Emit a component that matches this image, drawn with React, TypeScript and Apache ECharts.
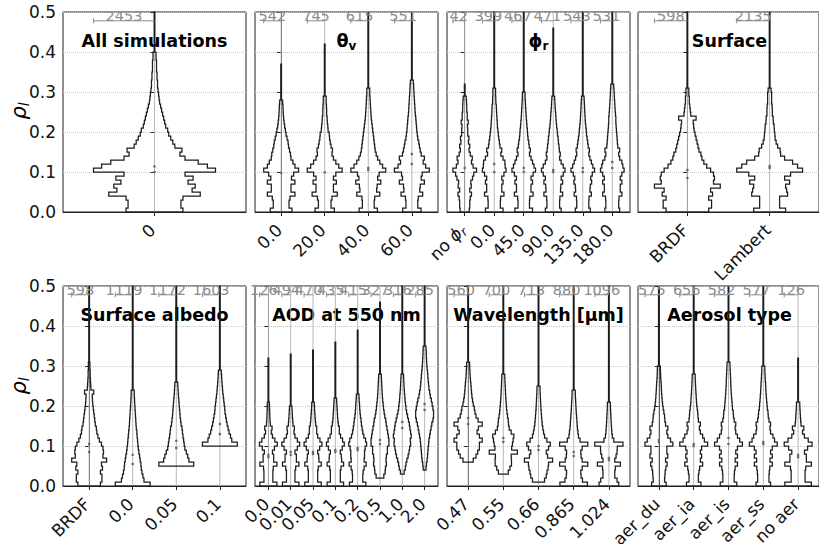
import React, { useEffect, useRef } from "react";
import * as echarts from "echarts";

const FONT = "DejaVu Sans";
const BIN = 0.01;
const HALF = 0.4;
const COUNT_Y = 0.478;

// ---- Panel 1: All simulations
const allCats = ["0"];
const allCounts = [2453];
const allStarts = [0];
const allTops = [0.5];
const allMarks = [[0.1, 0.114]];
const allWidths = [
  [28, 26, 26, 28, 45, 37, 40, 33, 38, 30, 60, 52, 43, 30, 25, 27, 20, 18, 16, 14, 13, 11, 10, 9, 8, 7, 6, 5, 4.5, 4, 3.5, 3, 3, 2.5, 2.5, 2, 2, 2, 1.5, 1.5],
];

// ---- Panel 2: theta_v
const vzaCats = ["0.0", "20.0", "40.0", "60.0"];
const vzaCounts = [542, 745, 615, 551];
const vzaStarts = [0, 0, 0, 0];
const vzaTops = [0.37, 0.42, 0.5, 0.5];
const vzaMarks = [[0.098], [0.099], [0.105, 0.11], [0.12, 0.145]];
const vzaWidths = [
  [11, 8, 8, 9, 14, 10, 10, 14, 10.5, 12.7, 17.7, 14, 12, 10, 9.5, 8.5, 7.5, 7, 6, 5, 4.3, 3.5, 3, 2.5, 2.2, 2, 1.8, 1.5],
  [10, 6.5, 6.5, 7.5, 13, 9, 9, 12, 9, 11.5, 18, 14.5, 11.5, 9, 7.5, 8, 6.5, 5.7, 5, 4.7, 3.5, 3.2, 2.7, 2.5, 2, 2, 1.8, 1.5, 1.5],
  [9.3, 6, 6, 6.5, 11.7, 8.5, 9, 12.7, 9.5, 11, 17.7, 14.5, 11.7, 9.5, 8, 7, 6.5, 6, 5.5, 5, 4.5, 4, 3.5, 3, 2.7, 2.5, 2.2, 2, 1.8, 1.5, 1.5],
  [9.3, 6, 6, 6.5, 11, 8, 8.5, 12.7, 9.5, 10.5, 17.7, 14, 11.5, 12.7, 9.5, 8.5, 7.7, 7, 6, 5.5, 5, 4.7, 4.3, 4, 3.5, 3.2, 3, 2.7, 2.5, 2.2, 2, 1.8, 1.5],
];

// ---- Panel 3: phi_r
const razCats = ["no ϕr", "0.0", "45.0", "90.0", "135.0", "180.0"];
const razCounts = [42, 399, 467, 471, 543, 531];
const razStarts = [0, 0, 0, 0, 0, 0];
const razTops = [0.32, 0.5, 0.5, 0.46, 0.5, 0.5];
const razMarks = [[0.11], [0.1, 0.12], [0.1, 0.11], [0.1, 0.105], [0.1, 0.11], [0.11, 0.125]];
const razWidths = [
  [4.5, 5, 5, 5.5, 6.7, 5, 6.5, 6, 7.7, 9, 11.7, 8.3, 6.7, 7.5, 5.5, 4.3, 5, 3.7, 4.2, 3, 3, 2.7, 3.5, 2.5, 2.5, 2, 2, 1.8, 1.5],
  [9.7, 6.7, 6.7, 7, 10.7, 8.3, 8.3, 9.7, 8.3, 10.7, 13, 12, 11.7, 9.7, 7.3, 8.3, 6.3, 5.7, 5, 4.5, 4, 3.5, 3.3, 3, 2.7, 2.5, 2.3, 1.8, 1.7, 1.5, 1.5],
  [9.7, 6.3, 6.3, 6.7, 10.3, 8, 8, 9.7, 8, 10.3, 13, 11.3, 9.7, 8, 6.3, 7.3, 6, 5.5, 4.7, 4.3, 4, 3.5, 3.2, 2.8, 2.5, 2.3, 2, 1.8, 1.5, 1.5],
  [8.7, 7, 7, 7.3, 10.3, 8, 8.3, 10.3, 8.7, 11, 13, 11, 8.7, 7, 7.7, 6.7, 6.3, 5.7, 5.3, 4.7, 4.3, 3.7, 3.3, 3, 2.7, 2.3, 2, 1.8, 1.5],
  [8.7, 7, 7, 7.3, 10, 8.3, 8.7, 10.3, 9.3, 11, 13.7, 11.7, 10, 8.3, 7, 7.7, 6.3, 5.7, 5, 4.3, 4, 3.5, 3, 2.7, 2.5, 2.2, 2, 1.8, 1.5],
  [7.7, 6.7, 6.7, 7, 10, 8.3, 8.3, 10, 8.3, 10, 12.3, 11, 10, 7.7, 6.7, 7.7, 5.7, 5.3, 5, 4.7, 4.3, 4, 3.7, 3.7, 3.3, 3, 2.7, 2.5, 2.2, 2, 1.8, 1.5],
];

// ---- shared histogram shapes (same subsets appear in two panels)
const brdfWidths = [22, 25, 25, 22, 26, 24, 34, 27, 28, 27, 24, 20, 17, 15, 14, 12, 11, 10, 9, 8, 7, 6.5, 6, 9, 3.5, 3, 2.5, 2, 2, 1.5, 1.5];
const lambertWidths = [16, 10, 10, 10, 18, 17, 16, 20, 15, 21, 33, 28, 23, 15, 11, 10.5, 8, 6.5, 5.5, 5.2, 4.7, 4.5, 3.7, 3.5, 2.7, 2.7, 2.5, 2, 2, 2, 1.5];
const noAerWidths = [10.5, 5.5, 5.5, 5.5, 6, 10.5, 6.5, 6.5, 5, 7.5, 11, 8, 5, 3.5, 4.5, 2.3, 2, 1.8, 1.6, 1.4, 1.3];

// ---- Panel 4: Surface
const surfCats = ["BRDF", "Lambert"];
const surfCounts = [598, 2135];
const surfStarts = [0, 0];
const surfTops = [0.5, 0.5];
const surfMarks = [[0.085, 0.105], [0.11, 0.115]];
const surfWidths = [brdfWidths, lambertWidths];

// ---- Panel 5: Surface albedo
const albCats = ["BRDF", "0.0", "0.05", "0.1"];
const albCounts = [598, 1119, 1172, 1603];
const albStarts = [0, 0, 0.05, 0.1];
const albTops = [0.5, 0.5, 0.5, 0.5];
const albMarks = [[0.085, 0.105], [0.055, 0.078], [0.095, 0.113], [0.13, 0.155]];
const albWidths = [
  brdfWidths,
  [17, 11, 10, 9, 8.3, 8, 7.3, 6.7, 6, 5.5, 5, 4.7, 4.3, 4, 3.5, 3.2, 3, 2.7, 2.5, 2.2, 2, 1.8, 1.6, 1.5],
  [18.3, 13.3, 12, 10.5, 9, 8.3, 7.7, 7, 6.5, 6, 5, 4.5, 4, 3.7, 3.3, 3, 2.7, 2.3, 2, 1.8, 1.5],
  [18, 12.3, 11, 9.5, 8.5, 7.5, 6.7, 6, 5.3, 5, 4.5, 4, 3.5, 3, 2.7, 2.3, 2, 1.8, 1.5],
];

// ---- Panel 6: AOD at 550 nm
const aodCats = ["0.0", "0.01", "0.05", "0.1", "0.2", "0.5", "1.0", "2.0"];
const aodCounts = [126, 494, 470, 435, 415, 327, 316, 285];
const aodStarts = [0, 0, 0, 0, 0, 0.02, 0.03, 0.04];
const aodTops = [0.32, 0.33, 0.34, 0.36, 0.39, 0.46, 0.5, 0.5];
const aodMarks = [[0.072, 0.078], [0.078, 0.085], [0.08, 0.085], [0.085, 0.09], [0.09, 0.095], [0.105, 0.115], [0.145, 0.16], [0.19, 0.205]];
const aodWidths = [
  noAerWidths,
  [8.3, 4.3, 4.3, 4.3, 5, 8.3, 5.7, 5.7, 4.3, 6.7, 9, 6.7, 4.3, 3.3, 3.7, 2.3, 2, 1.7, 1.5, 1.3],
  [8.3, 4.7, 4.7, 4.7, 5.3, 8.3, 6, 5.7, 4.7, 6.7, 9, 7, 4.7, 3.7, 3.7, 2.7, 2.3, 2, 1.7, 1.5, 1.3],
  [8.3, 5, 5, 5, 5.7, 8.3, 6.3, 6, 5, 7, 9, 7.3, 5.3, 4, 4, 3, 2.5, 2.2, 2, 1.7, 1.5, 1.3],
  [8, 5, 5, 5.3, 6.3, 8.3, 6.3, 6.7, 6.7, 7.3, 8.7, 7.7, 6, 5, 4.3, 3.7, 3.3, 2.7, 2.3, 2, 1.8, 1.5, 1.3],
  [4, 5.3, 5.7, 6.7, 6.3, 6.7, 7.7, 7.7, 9.3, 9.3, 8.7, 8, 7.3, 6.5, 6, 5, 4.3, 3.7, 3.3, 2.8, 2.5, 2.2, 2, 1.8, 1.6, 1.4],
  [2, 3.3, 4, 5, 6.3, 7.3, 8, 9, 8.7, 9.7, 9, 8.3, 7.7, 6.7, 5.7, 4.7, 4, 3.5, 3, 2.7, 2.3, 2, 1.8, 1.6, 1.4],
  [1.3, 1.7, 2.3, 2.7, 3, 3.3, 3.7, 4, 4.7, 5.3, 6, 6.7, 7.7, 8.3, 8.3, 7.7, 7, 6.3, 5.3, 4.7, 4, 3.7, 3.3, 3, 2.7, 2.3, 2, 1.8, 1.6, 1.5, 1.3],
];

// ---- Panel 7: Wavelength
const wlCats = ["0.47", "0.55", "0.66", "0.865", "1.024"];
const wlCounts = [560, 700, 713, 880, 1096];
const wlStarts = [0.06, 0.03, 0.01, 0, 0];
const wlTops = [0.5, 0.5, 0.5, 0.5, 0.5];
const wlMarks = [[0.155, 0.17], [0.11, 0.12], [0.09, 0.1], [0.075, 0.085], [0.065, 0.07]];
const wlWidths = [
  [5, 7.7, 9.3, 11, 11, 13.7, 11, 8.7, 10, 13.7, 9.7, 7.7, 6.7, 6, 5, 4.3, 3.7, 3.3, 3, 2.7, 2.3, 2, 1.8, 1.6, 1.5],
  [5, 6.7, 8.3, 8.3, 8, 14.3, 8.5, 9.3, 10, 10.7, 8, 6, 5.3, 5, 4.3, 3.7, 3.3, 3, 2.7, 2.4, 2.2, 2, 1.8, 1.6, 1.5],
  [6, 7.7, 8.5, 9.5, 10, 14, 9, 7.7, 10, 11.7, 8.3, 6, 5, 4.3, 3.7, 3.3, 3, 2.7, 2.4, 2.2, 2, 1.8, 1.6, 1.5],
  [13, 8.3, 7, 6.7, 8, 13.3, 8, 7, 6.7, 8, 13.3, 6, 4.5, 4, 3.5, 3.2, 3, 2.7, 2.4, 2.2, 2, 1.8, 1.6, 1.5],
  [10, 8.3, 6, 6, 6.5, 11.7, 6, 7.3, 8.3, 8.5, 14.3, 5, 3.5, 3, 2.7, 2.4, 2.2, 2, 1.8, 1.6, 1.5],
];

// ---- Panel 8: Aerosol type
const aerCats = ["aer_du", "aer_ia", "aer_is", "aer_ss", "no aer"];
const aerCounts = [575, 656, 582, 577, 126];
const aerStarts = [0, 0, 0, 0, 0];
const aerTops = [0.5, 0.5, 0.5, 0.5, 0.32];
const aerMarks = [[0.11, 0.115], [0.1, 0.105], [0.105, 0.12], [0.105, 0.11], [0.072, 0.078]];
const aerWidths = [
  [7.3, 5.7, 6, 6.3, 7, 8.3, 6.7, 9, 8, 8, 14, 11.7, 9, 8, 9, 6.7, 6, 5.7, 5, 4.3, 3.7, 3.3, 3, 2.7, 2.5, 2.3, 2, 1.8, 1.6, 1.5],
  [7.3, 4.7, 4.7, 5.3, 6, 9, 6.7, 8, 6.7, 8, 14, 10.7, 9, 6.7, 5.7, 6.7, 4.7, 4.3, 4, 3.5, 3, 2.7, 2.5, 2.2, 2, 1.8, 1.6, 1.5],
  [8.3, 5.7, 5.7, 6, 6.7, 9, 6.7, 9, 7.3, 9, 14, 11.3, 9, 7.3, 6.7, 7.3, 5.7, 5, 4.7, 4, 3.7, 3.3, 3, 2.7, 2.5, 2.3, 2.2, 2, 1.8, 1.6, 1.5],
  [7.3, 5.7, 5.7, 6, 6.5, 9, 6.7, 9, 7.3, 9, 14, 11.3, 9.7, 7.3, 6.7, 7.3, 5.7, 5, 4.7, 4, 3.7, 3.3, 3, 2.7, 2.5, 2.3, 2, 1.8, 1.6, 1.5],
  noAerWidths,
];

const titles = [
  "All simulations",
  "{b|θ}{s|v}",
  "{b|ϕ}{s|r}",
  "Surface",
  "Surface albedo",
  "AOD at 550 nm",
  "Wavelength [μm]",
  "Aerosol type",
];

type Panel = {
  cats: string[];
  counts: number[];
  starts: number[];
  tops: number[];
  marks: number[][];
  widths: number[][];
};

const panels: Panel[] = [
  { cats: allCats, counts: allCounts, starts: allStarts, tops: allTops, marks: allMarks, widths: allWidths },
  { cats: vzaCats, counts: vzaCounts, starts: vzaStarts, tops: vzaTops, marks: vzaMarks, widths: vzaWidths },
  { cats: razCats, counts: razCounts, starts: razStarts, tops: razTops, marks: razMarks, widths: razWidths },
  { cats: surfCats, counts: surfCounts, starts: surfStarts, tops: surfTops, marks: surfMarks, widths: surfWidths },
  { cats: albCats, counts: albCounts, starts: albStarts, tops: albTops, marks: albMarks, widths: albWidths },
  { cats: aodCats, counts: aodCounts, starts: aodStarts, tops: aodTops, marks: aodMarks, widths: aodWidths },
  { cats: wlCats, counts: wlCounts, starts: wlStarts, tops: wlTops, marks: wlMarks, widths: wlWidths },
  { cats: aerCats, counts: aerCounts, starts: aerStarts, tops: aerTops, marks: aerMarks, widths: aerWidths },
];

const GRID_LEFT = [63, 255, 447, 638];
const GRID_TOP = [12, 286];
const GRID_W = 183;
const GRID_H = 200;

const labelRich = {
  n: { fontSize: 17, fontFamily: FONT, fill: "#111" },
  i: { fontSize: 17, fontFamily: FONT, fill: "#111", fontStyle: "italic" },
  s: { fontSize: 12, fontFamily: FONT, fill: "#111", fontStyle: "italic", padding: [8, 0, 0, 0] },
};

function fmtCat(s: string | undefined): string {
  if (s === undefined) return "";
  if (s === "no ϕr") return "{n|no }{i|ϕ}{s|r}";
  return "{n|" + s + "}";
}

function makeRender(p: Panel) {
  return (params: any, api: any) => {
    const i = params.dataIndex;
    const unit = api.size([1, 0])[0];
    const w = p.widths[i];
    const maxW = Math.max(...w);
    const scale = (HALF * unit) / maxW;
    const cx = api.coord([i, 0])[0];
    const Y = (v: number) => api.coord([i, v])[1];
    const start = p.starts[i];
    const end = start + w.length * BIN;
    const tailW = 0.35;
    const right: number[][] = [];
    w.forEach((d, k) => {
      const hw = d * scale;
      right.push([cx + hw, Y(start + k * BIN)], [cx + hw, Y(start + (k + 1) * BIN)]);
    });
    if (p.tops[i] > end) {
      right.push([cx + tailW, Y(end)], [cx + tailW, Y(p.tops[i])]);
    }
    const left = right
      .slice()
      .reverse()
      .map((q) => [2 * cx - q[0], q[1]]);
    const pts = right.concat(left);
    const lineHalf = HALF * unit;
    const ly = Y(COUNT_Y);
    const children: any[] = [
      {
        type: "line",
        shape: { x1: cx, y1: Y(0.5), x2: cx, y2: Y(0) },
        style: { stroke: "#b8b8b8", lineWidth: 1 },
        silent: true,
      },
      {
        type: "polygon",
        shape: { points: pts },
        style: { fill: "rgba(255,255,255,0)", stroke: "#1c1c1c", lineWidth: 1.25 },
      },
    ];
    p.marks[i].forEach((m) => {
      children.push({
        type: "circle",
        shape: { cx: cx, cy: Y(m), r: 1.3 },
        style: { fill: "#6a6a6a" },
      });
    });
    children.push(
      {
        type: "line",
        shape: { x1: cx - lineHalf, y1: ly, x2: cx, y2: ly },
        style: { stroke: "#8c8c8c", lineWidth: 1 },
      },
      {
        type: "line",
        shape: { x1: cx - lineHalf, y1: ly - 2.5, x2: cx - lineHalf, y2: ly + 2.5 },
        style: { stroke: "#8c8c8c", lineWidth: 1 },
      },
      {
        type: "text",
        x: cx - lineHalf / 2,
        y: ly + 3,
        style: {
          text: String(p.counts[i]),
          align: "center",
          verticalAlign: "bottom",
          fontSize: 14.5,
          fontFamily: FONT,
          fill: "#8c8c8c",
        },
      },
      {
        // category tick label, rotated 45 degrees, ending at the tick
        type: "text",
        x: cx - 2,
        y: Y(0) + 15,
        rotation: Math.PI / 4,
        style: {
          text: fmtCat(p.cats[i]),
          rich: labelRich,
          align: "right",
          verticalAlign: "middle",
          fontSize: 17,
          fontFamily: FONT,
          fill: "#111",
        },
      }
    );
    return { type: "group", children };
  };
}

export default function App() {
  const ref = useRef<HTMLDivElement>(null);
  useEffect(() => {
    document.body.style.margin = "0";
    const chart = echarts.init(ref.current!, undefined, { renderer: "svg" });
    const grid = panels.map((_, g) => ({
      left: GRID_LEFT[g % 4],
      top: GRID_TOP[Math.floor(g / 4)],
      width: GRID_W,
      height: GRID_H,
      show: true,
      borderColor: "#222",
      borderWidth: 1,
      containLabel: false,
    }));
    const xAxis = panels.map((p, g) => {
      const idx = p.cats.map((_, i) => i);
      return {
        type: "value",
        gridIndex: g,
        min: -0.6,
        max: p.cats.length - 0.4,
        axisLine: { show: true, lineStyle: { color: "#222", width: 1 } },
        axisTick: { show: true, customValues: idx, length: 4, lineStyle: { color: "#222" } },
        axisLabel: { show: false },
        splitLine: { show: false },
      };
    });
    const yAxis = panels.map((_, g) => ({
      type: "value",
      gridIndex: g,
      min: 0,
      max: 0.5,
      interval: 0.1,
      axisLine: { show: true, lineStyle: { color: "#222" } },
      axisTick: { show: true, length: 4, lineStyle: { color: "#222" } },
      axisLabel: {
        show: g % 4 === 0,
        fontSize: 17,
        fontFamily: FONT,
        color: "#111",
        margin: 7,
        formatter: (v: number) => v.toFixed(1),
      },
      splitLine: { show: true, lineStyle: { color: "#c8c8c8", type: "dotted", width: 1 } },
    }));
    const series = panels.map((p, g) => ({
      type: "custom",
      xAxisIndex: g,
      yAxisIndex: g,
      clip: false,
      data: p.cats.map((_, i) => [i, 0]),
      encode: { x: 0, y: 1 },
      renderItem: makeRender(p),
    }));
    const titleRich = {
      b: { fontSize: 17.5, fontWeight: "bold", fontFamily: FONT, fill: "#000", lineHeight: 24 },
      s: { fontSize: 12, fontWeight: "bold", fontFamily: FONT, fill: "#000", padding: [9, 0, 0, 0] },
    };
    const graphic: any[] = titles.map((t, g) => ({
      type: "text",
      x: GRID_LEFT[g % 4] + GRID_W / 2,
      y: GRID_TOP[Math.floor(g / 4)] + 29,
      z: 1,
      style: {
        text: t,
        rich: titleRich,
        align: "center",
        verticalAlign: "middle",
        fontSize: 17.5,
        fontWeight: "bold",
        fontFamily: FONT,
        fill: "#000",
      },
    }));
    [111, 386].forEach((cy) => {
      graphic.push({
        type: "text",
        x: 19,
        y: cy,
        rotation: Math.PI / 2,
        style: {
          text: "{r|ρ}{s|l}",
          align: "center",
          verticalAlign: "middle",
          rich: {
            r: { fontSize: 21, fontStyle: "italic", fontFamily: FONT, fill: "#000" },
            s: { fontSize: 14, fontStyle: "italic", fontFamily: FONT, fill: "#000", padding: [10, 0, 0, 0] },
          },
        },
      });
    });
    chart.setOption({
      animation: false,
      backgroundColor: "#fff",
      grid,
      xAxis,
      yAxis,
      series,
      graphic,
    });
    return () => chart.dispose();
  }, []);
  return (
    <div
      ref={ref}
      style={{ position: "absolute", left: 0, top: 0, width: 819, height: 544 }}
    />
  );
}
